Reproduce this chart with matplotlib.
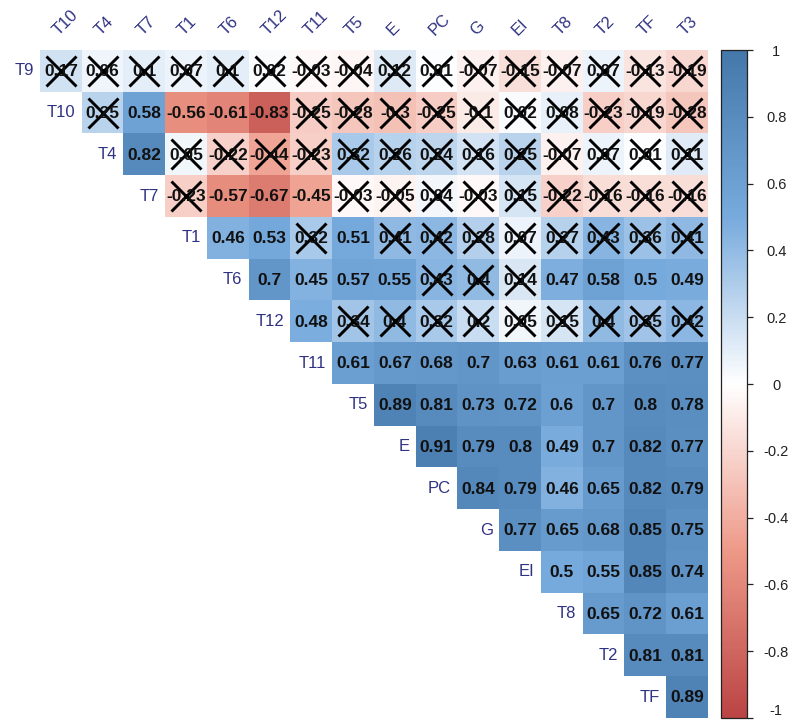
import numpy as np
import matplotlib
matplotlib.use("Agg")
import matplotlib.pyplot as plt
from matplotlib.colors import LinearSegmentedColormap

# variable order (rows top->bottom, columns left->right)
variables = ["T9", "T10", "T4", "T7", "T1", "T6", "T12", "T11", "T5",
             "E", "PC", "G", "EI", "T8", "T2", "TF", "T3"]

# upper triangle, each row starts at the column right after the diagonal
upper_values = [
    [0.17, 0.06, 0.1, 0.07, 0.1, 0.02, -0.03, -0.04, 0.12, 0.01, -0.07, -0.15, -0.07, 0.07, -0.13, -0.19],
    [0.25, 0.58, -0.56, -0.61, -0.83, -0.25, -0.28, -0.3, -0.25, -0.1, 0.02, 0.08, -0.23, -0.19, -0.28],
    [0.82, 0.05, -0.22, -0.44, -0.23, 0.32, 0.26, 0.24, 0.16, 0.25, -0.07, 0.07, 0.01, 0.11],
    [-0.23, -0.57, -0.67, -0.45, -0.03, -0.05, 0.04, -0.03, 0.15, -0.22, -0.16, -0.16, -0.16],
    [0.46, 0.53, 0.32, 0.51, 0.41, 0.42, 0.28, 0.07, 0.27, 0.43, 0.36, 0.41],
    [0.7, 0.45, 0.57, 0.55, 0.43, 0.4, 0.14, 0.47, 0.58, 0.5, 0.49],
    [0.48, 0.34, 0.4, 0.32, 0.2, 0.05, 0.15, 0.4, 0.35, 0.42],
    [0.61, 0.67, 0.68, 0.7, 0.63, 0.61, 0.61, 0.76, 0.77],
    [0.89, 0.81, 0.73, 0.72, 0.6, 0.7, 0.8, 0.78],
    [0.91, 0.79, 0.8, 0.49, 0.7, 0.82, 0.77],
    [0.84, 0.79, 0.46, 0.65, 0.82, 0.79],
    [0.77, 0.65, 0.68, 0.85, 0.75],
    [0.5, 0.55, 0.85, 0.74],
    [0.65, 0.72, 0.61],
    [0.81, 0.81],
    [0.89],
]

# 'x' = not significant (crossed out), '.' = significant
insignificant = [
    "xxxxxxxxxxxxxxxx",
    "x....xxxxxxxxxx",
    ".xxxxxxxxxxxxx",
    "x...xxxxxxxxx",
    "..x.xxxxxxxx",
    "....xxx....",
    ".xxxxxxxxx",
    ".........",
    "........",
    ".......",
    "......",
    ".....",
    "....",
    "...",
    "..",
    ".",
]

row_names = variables[:-1]
col_names = variables[1:]
n = len(row_names)

mat = np.full((n, n), np.nan)
crossed = np.zeros((n, n), dtype=bool)
for i, row in enumerate(upper_values):
    for k, v in enumerate(row):
        mat[i, i + k] = v
        crossed[i, i + k] = insignificant[i][k] == "x"

cmap = LinearSegmentedColormap.from_list(
    "corr", ["#BB4444", "#EE9988", "#FFFFFF", "#77AADD", "#4477AA"])
label_col = "#2f3282"

W, H = 791, 724
fig = plt.figure(figsize=(W / 100, H / 100), dpi=100)
gx0, gx1, gy0, gy1 = 40, 708, 50, 718
ax = fig.add_axes([gx0 / W, 1 - gy1 / H, (gx1 - gx0) / W, (gy1 - gy0) / H])
im = ax.imshow(np.ma.masked_invalid(mat), cmap=cmap, vmin=-1, vmax=1,
               extent=(0, n, n, 0), aspect="auto", interpolation="nearest")
ax.set_xlim(0, n)
ax.set_ylim(n, 0)
ax.axis("off")

for i in range(n):
    for j in range(i, n):
        v = mat[i, j]
        s = f"{v:.2f}".rstrip("0").rstrip(".")
        ax.text(j + 0.5, i + 0.52, s, ha="center", va="center",
                fontsize=12.5, fontweight="bold", color="#111111",
                family="Liberation Sans")
        if crossed[i, j]:
            ax.plot(j + 0.5, i + 0.5, marker="x", markersize=21,
                    markeredgewidth=2.1, color="black")

# column labels along the top, rotated
for j, name in enumerate(col_names):
    ax.text(j + 0.5, -0.28, name, rotation=45, rotation_mode="anchor",
            ha="left", va="bottom", fontsize=12, color=label_col,
            family="Liberation Sans", clip_on=False)

# row labels at the diagonal position
for i, name in enumerate(row_names):
    ax.text(i - 0.15, i + 0.5, name, ha="right", va="center",
            fontsize=12, color=label_col, family="Liberation Sans",
            clip_on=False)

# colour legend
cax = fig.add_axes([721 / W, 1 - gy1 / H, 26 / W, (gy1 - gy0) / H])
cb = fig.colorbar(im, cax=cax)
ticks = np.round(np.arange(-1, 1.01, 0.2), 1)
cb.set_ticks(ticks)
cb.set_ticklabels([f"{t:g}" if t != 0 else "0" for t in ticks])
cb.outline.set_edgecolor("#222222")
cb.outline.set_linewidth(0.9)
cax.tick_params(axis="y", length=4, width=0.9, color="#222222",
                pad=17, labelsize=10.5, labelcolor="#222222")
labels = cax.get_yticklabels()
for lab in labels:
    lab.set_horizontalalignment("center")
    lab.set_family("Liberation Sans")
# keep the bottom label inside the canvas
labels[0].set_verticalalignment("bottom")

fig.savefig("out.png", dpi=100)
